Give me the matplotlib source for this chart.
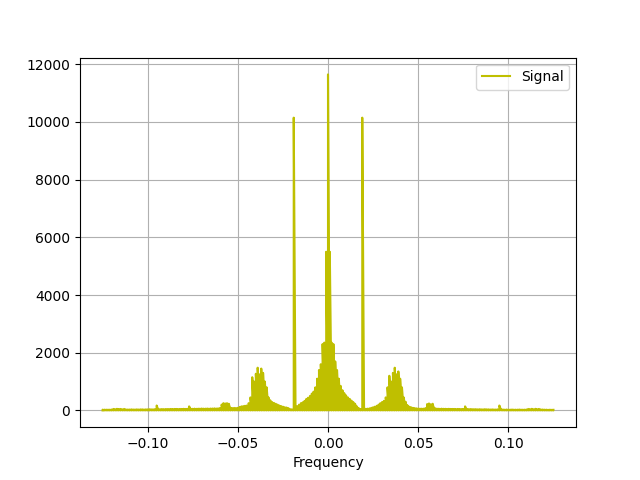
import numpy as np
import matplotlib
matplotlib.use('Agg')
import matplotlib.pyplot as plt

# spectrum magnitude, one value per 0.001 frequency bin
# negative frequencies, -0.125 ... -0.001
mag_neg = [25, 25, 25, 25, 25, 30,
           50, 40, 55, 45, 50, 35, 50, 30, 30,
           30, 35, 30, 30, 35, 30, 35, 35, 30, 35, 35, 40, 35, 35, 40,
           170,
           40, 40, 45, 40, 45, 45, 45, 50, 45, 50, 50, 45, 50, 50, 55, 50, 55,
           140,
           55, 55, 60, 55, 60, 60, 65, 60, 60, 65, 60, 65, 65, 70, 65, 70, 80,
           200, 250, 240, 250, 230,
           90, 80, 85, 80, 90, 120, 140, 150, 160, 170, 250,
           450, 1150, 1000, 1270, 1480, 1250, 1450, 1300, 1000, 800, 450,
           350, 290, 260, 230, 200, 170, 150, 130, 110, 100, 80, 40, 35,
           10150,
           60, 150, 200, 250, 280, 330, 400, 440, 500, 580, 650, 800, 1100,
           1400, 1600, 2300, 2350, 5500]

# zero and positive frequencies, 0.000 ... 0.125
mag_pos = [11650,
           5500, 2350, 2300, 1700, 1400, 1100, 850, 700, 600, 520, 450, 400,
           340, 290, 230, 140, 80, 40,
           10150,
           50, 55, 60, 70, 90, 110, 130, 160, 200, 250, 290, 330,
           450, 800, 1200, 1000, 1300, 1480, 1250, 1350, 1100, 800, 450, 300, 180,
           130, 110, 90, 80, 70, 65, 60, 60, 60, 80,
           220, 240, 210, 230, 90,
           60, 60, 55, 60, 55, 55, 50, 55, 50, 50, 50, 45, 50, 45, 45, 50,
           140,
           45, 40, 45, 40, 40, 40, 35, 40, 35, 35, 40, 35, 35, 30, 35, 30, 30, 35,
           170,
           30, 30, 25, 30, 25, 25, 30, 25, 25, 25, 30, 25, 25, 25, 30,
           50, 40, 55, 35, 55, 40, 50, 30, 30,
           25, 25, 20, 25, 20, 20]

magnitude = np.array(mag_neg + mag_pos, dtype=float)
freq = np.arange(-125, 126) / 1000.0

# each bin drawn from the floor up to its magnitude, like a dense fft trace
x = np.repeat(freq, 2)
y = np.column_stack([np.zeros_like(magnitude), magnitude]).ravel()

fig = plt.figure(figsize=(6.4, 4.8), dpi=100)
plt.plot(x, y, 'y', label='Signal')
ax = plt.gca()
ax.set_xlabel('Frequency')
ax.grid(True)
ax.legend(loc='upper right')
plt.savefig('out.png')
